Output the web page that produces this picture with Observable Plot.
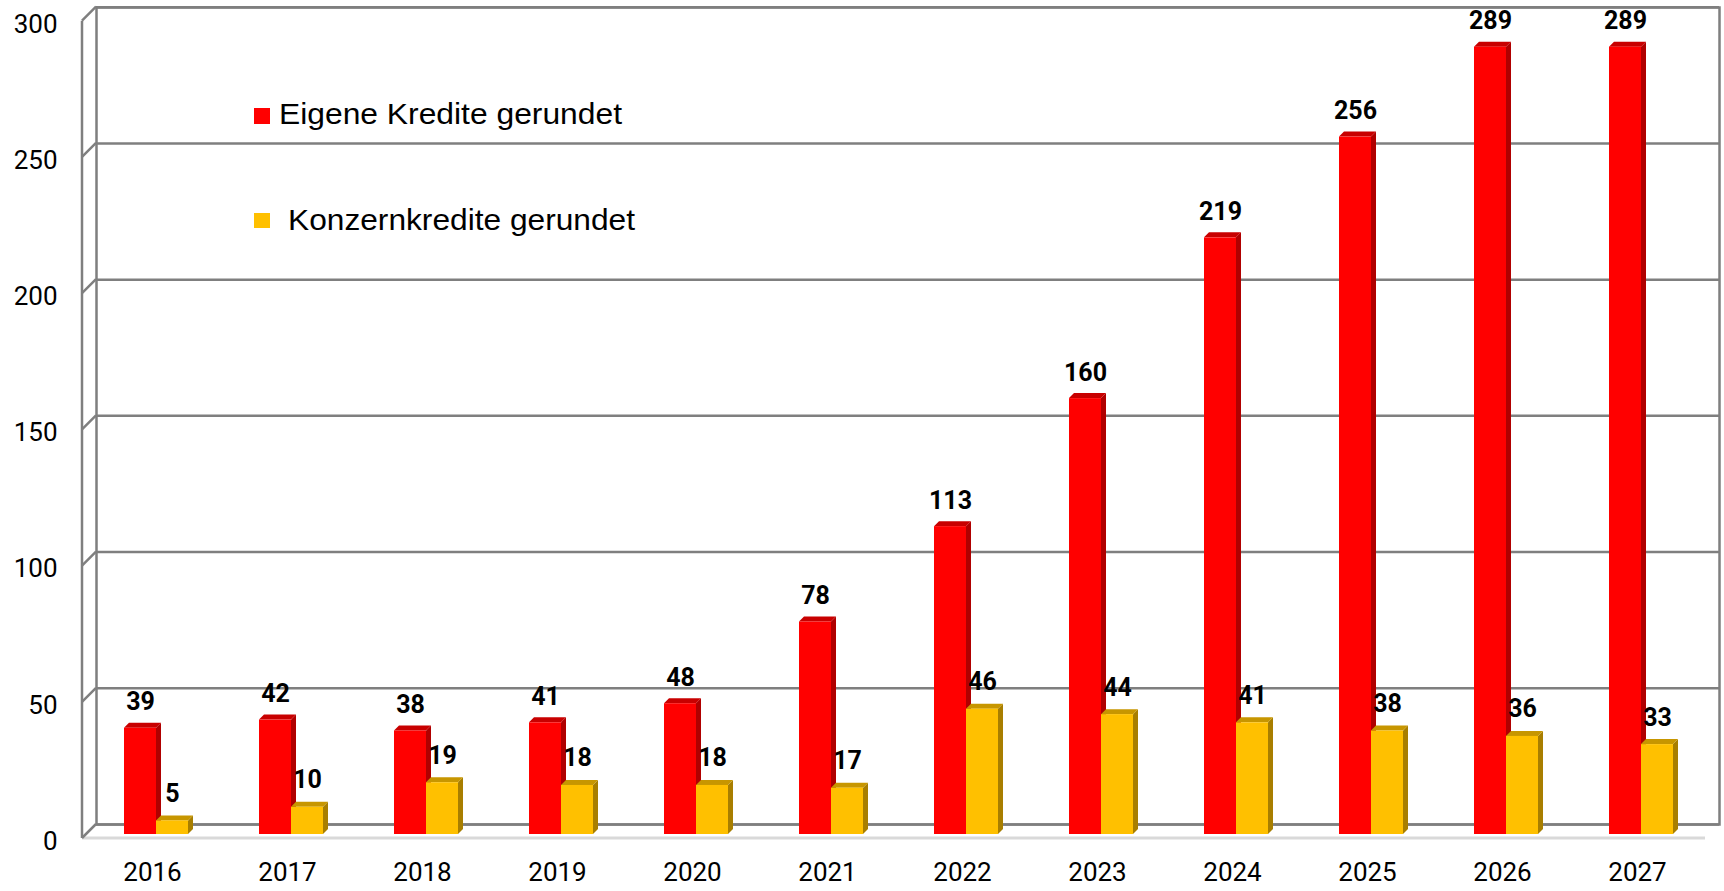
<!DOCTYPE html>
<html><head><meta charset="utf-8">
<script src="https://cdn.jsdelivr.net/npm/d3@7"></script>
<script src="https://cdn.jsdelivr.net/npm/@observablehq/plot@0.6"></script>
<style>
html,body{margin:0;padding:0;background:#fff;}
#chart{position:relative;width:1724px;height:891px;}
svg{display:block}
</style></head><body><div id="chart"></div>
<script>
// ---- data ----
const years = ["2016","2017","2018","2019","2020","2021","2022","2023","2024","2025","2026","2027"];
const eigene = [39,42,38,41,48,78,113,160,219,256,289,289];
const konzern = [5,10,19,18,18,17,46,44,41,38,36,33];
const yTicks = [0,50,100,150,200,250,300];
const seriesNames = ["Eigene Kredite gerundet","Konzernkredite gerundet"];
const seriesColors = ["#ff0000","#ffc000"];
const sideColors = ["#b00000","#a87e00"];
const topColors = ["#c80000","#c79600"];

const data = years.map((year, i) => ({year, eigene: eigene[i], konzern: konzern[i]}));
const keys = ["eigene","konzern"];

const GRID = "#7f7f7f";
const BACK = -10, FRONT = 4, DEPTH = 5;

function caps(s) {
  const key = keys[s];
  return (index, scales, values, dim) => {
    const g = d3.create("svg:g");
    const bw = scales.x.bandwidth() / 2;
    const d = DEPTH;
    data.forEach(row => {
      const x0 = scales.x(row.year) + s * bw, x1 = x0 + bw;
      const yt = scales.y(row[key]), yb = scales.y(0);
      g.append("path").attr("d", `M${x1},${yt}L${x1+d},${yt-d}L${x1+d},${yb-d}L${x1},${yb}Z`).attr("fill", sideColors[s]);
      g.append("path").attr("d", `M${x0},${yt}L${x0+d},${yt-d}L${x1+d},${yt-d}L${x1},${yt}Z`).attr("fill", topColors[s]);
    });
    return g.node();
  };
}

function walls(index, scales, values, dim) {
  const g = d3.create("svg:g").attr("fill", "none");
  const xl = dim.marginLeft, off = FRONT - BACK;
  const xr = dim.width - dim.marginRight;
  const y0 = scales.y(0), yTop = scales.y(yTicks[yTicks.length - 1]);
  g.append("line").attr("x1", xl - off).attr("x2", xr - off)
    .attr("y1", y0 + FRONT).attr("y2", y0 + FRONT)
    .attr("stroke", "#d9d9d9").attr("stroke-width", 3);
  g.append("line").attr("x1", xl - off).attr("x2", xl - off)
    .attr("y1", yTop + FRONT).attr("y2", y0 + FRONT)
    .attr("stroke", GRID).attr("stroke-width", 2.5);
  yTicks.forEach(v => {
    g.append("line").attr("x1", xl - off).attr("y1", scales.y(v) + FRONT)
      .attr("x2", xl).attr("y2", scales.y(v) + BACK)
      .attr("stroke", GRID).attr("stroke-width", 2.5);
  });
  return g.node();
}

const plot = Plot.plot({
  width: 1724,
  height: 891,
  marginLeft: 96,
  marginRight: 5,
  marginTop: 7,
  marginBottom: 67,
  style: {fontFamily: "Roboto", background: "#fff", color: "#000"},
  x: {type: "band", domain: years, range: [87.4, 1710.1], paddingInner: 0.5266, paddingOuter: 0.2633},
  y: {domain: [0, 300], range: [834, 16.7]},
  marks: [
    Plot.frame({stroke: GRID, strokeWidth: 2.5}),
    Plot.ruleY(yTicks, {dy: BACK, stroke: GRID, strokeWidth: 2.5}),
    walls,
    Plot.axisY(yTicks, {anchor: "left", tickSize: 0, tickPadding: 39, dy: 7, fontSize: 26, label: null, tickFormat: d => String(d)}),
    Plot.axisX({anchor: "bottom", tickSize: 0, tickPadding: 38, dx: -4, fontSize: 26, label: null}),
    caps(0),
    Plot.barY(data, {x: "year", y: "eigene", fill: seriesColors[0], insetRight: 32}),
    caps(1),
    Plot.barY(data, {x: "year", y: "konzern", fill: seriesColors[1], insetLeft: 32}),
    Plot.text(data, {x: "year", y: "eigene", text: d => String(d.eigene), dx: -16, dy: -26, fontWeight: "bold", fontSize: 25, fill: "#000"}),
    Plot.text(data, {x: "year", y: "konzern", text: d => String(d.konzern), dx: 16, dy: -27, fontWeight: "bold", fontSize: 25, fill: "#000"})
  ]
});

// legend inside the plot area
const svg = d3.select(plot);
const leg = svg.append("g").attr("font-family", "'Liberation Sans', Arial, sans-serif").attr("font-size", 29.5).attr("fill", "#000").attr("text-anchor", "start");
const legPos = [{sq: [254, 108, 16, 16], tx: [279, 124], len: 343}, {sq: [254, 213, 16, 15], tx: [288, 230], len: 347}];
seriesNames.forEach((name, i) => {
  const p = legPos[i];
  leg.append("rect").attr("x", p.sq[0]).attr("y", p.sq[1]).attr("width", p.sq[2]).attr("height", p.sq[3]).attr("fill", seriesColors[i]);
  leg.append("text").attr("x", p.tx[0]).attr("y", p.tx[1]).attr("text-anchor", "start").attr("textLength", p.len).attr("lengthAdjust", "spacingAndGlyphs").text(name);
});

document.getElementById("chart").appendChild(plot);
</script>
</body></html>
